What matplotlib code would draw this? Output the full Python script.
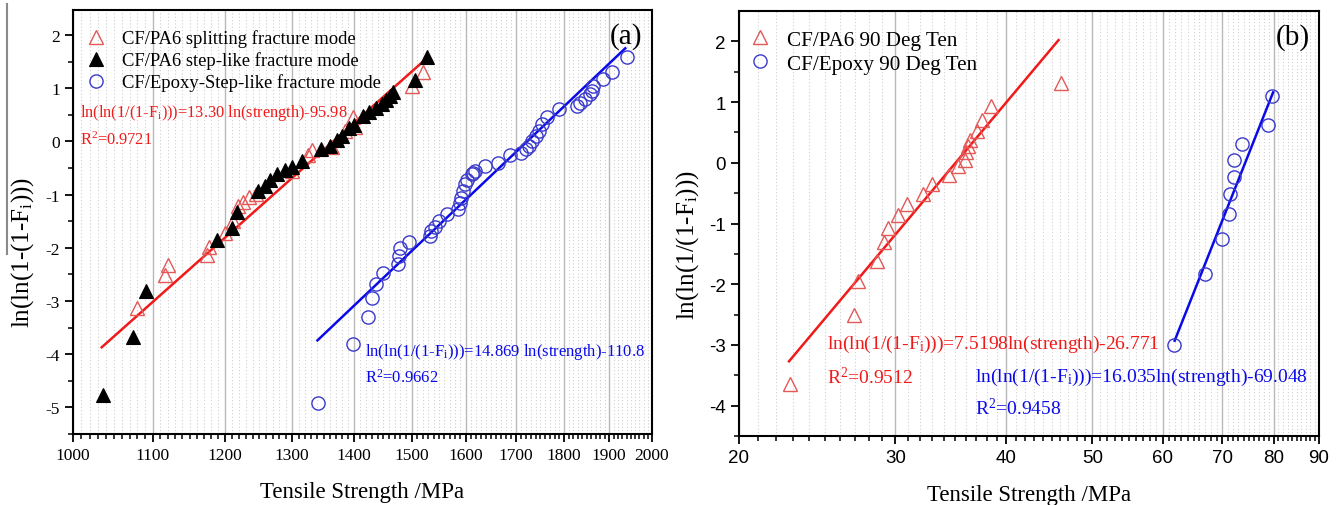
import numpy as np
import matplotlib
matplotlib.use("Agg")
import matplotlib.pyplot as plt
from matplotlib.ticker import FixedLocator, NullFormatter, FixedFormatter
from matplotlib.lines import Line2D

plt.rcParams['font.family'] = ['Liberation Serif', 'DejaVu Serif']
plt.rcParams['mathtext.fontset'] = 'custom'
plt.rcParams['mathtext.rm'] = 'Liberation Serif'
plt.rcParams['mathtext.it'] = 'Liberation Serif:italic'

# ---------------- Panel (a) data ----------------
pa6_split_x = [1080, 1116, 1121, 1174, 1177, 1200, 1211, 1219, 1226, 1234, 1245,
               1300, 1325, 1331, 1363, 1385, 1399, 1402, 1500, 1520]
pa6_split_y = [-3.14, -2.51, -2.32, -2.13, -1.98, -1.72, -1.50, -1.22, -1.13, -1.05, -0.98,
               -0.55, -0.25, -0.17, -0.10, 0.20, 0.45, 0.28, 1.04, 1.30]

pa6_step_x = [1036, 1075, 1091, 1188, 1209, 1217, 1248, 1258, 1266, 1276, 1289, 1300,
              1315, 1345, 1360, 1372, 1380, 1392, 1400, 1415, 1425, 1438, 1447, 1455,
              1462, 1466, 1506, 1527]
pa6_step_y = [-4.77, -3.67, -2.81, -1.85, -1.63, -1.33, -0.93, -0.84, -0.72, -0.62, -0.53, -0.48,
              -0.37, -0.15, -0.08, 0.02, 0.10, 0.25, 0.30, 0.48, 0.55, 0.62, 0.70, 0.78,
              0.85, 0.92, 1.15, 1.58]

epoxy_x = [1341, 1398, 1424, 1430, 1438, 1449, 1476, 1478, 1479, 1496, 1534, 1535, 1543,
           1549, 1564, 1586, 1589, 1592, 1595, 1599, 1602, 1613, 1618, 1614, 1638, 1664,
           1688, 1709, 1719, 1726, 1733, 1740, 1747, 1754, 1764, 1789, 1828, 1835, 1846,
           1857, 1861, 1864, 1887, 1906, 1940]
epoxy_y = [-4.92, -3.81, -3.30, -2.95, -2.68, -2.48, -2.30, -2.15, -2.01, -1.90, -1.77, -1.69, -1.60,
           -1.50, -1.36, -1.27, -1.16, -1.06, -0.94, -0.81, -0.72, -0.62, -0.56, -0.59, -0.47, -0.40,
           -0.25, -0.21, -0.15, -0.09, 0.01, 0.10, 0.19, 0.32, 0.45, 0.60, 0.67, 0.73, 0.79,
           0.89, 0.95, 1.04, 1.18, 1.31, 1.58]

pa6_fit_x = [1035, 1528]
pa6_fit_y = [-3.87, 1.57]
epoxy_fit_x = [1340, 1937]
epoxy_fit_y = [-3.74, 1.75]

a_xticks = [1000, 1100, 1200, 1300, 1400, 1500, 1600, 1700, 1800, 1900, 2000]
a_yticks = [-5, -4, -3, -2, -1, 0, 1, 2]

# ---------------- Panel (b) data ----------------
pa6_90_x = [22.8, 26.96, 27.2, 28.6, 29.1, 29.4, 30.2, 30.9, 32.2, 33.0, 34.5, 35.3,
            35.9, 36.0, 36.2, 36.4, 37.1, 37.6, 38.4, 46.1]
pa6_90_y = [-3.64, -2.50, -1.95, -1.61, -1.31, -1.08, -0.86, -0.68, -0.52, -0.35, -0.20, -0.06,
            0.05, 0.17, 0.27, 0.38, 0.52, 0.71, 0.93, 1.31]

epoxy_90_x = [61.8, 67.0, 69.9, 71.3, 71.5, 72.2, 72.2, 73.8, 78.9, 79.7]
epoxy_90_y = [-3.00, -1.83, -1.26, -0.84, -0.52, -0.23, 0.04, 0.31, 0.63, 1.10]

pa6_90_fit_x = [22.77, 45.8]
pa6_90_fit_y = [-3.27, 2.02]
epoxy_90_fit_x = [61.9, 79.9]
epoxy_90_fit_y = [-2.93, 1.16]

b_xticks = [20, 30, 40, 50, 60, 70, 80, 90]
b_yticks = [-4, -3, -2, -1, 0, 1, 2]

RED = '#f01a1a'
RED_M = '#e45858'
BLUE = '#0a0ae8'
BLUE_M = '#3a3acc'

W, H = 1340, 506
fig = plt.figure(figsize=(W / 100, H / 100), dpi=100)

def style_axes(ax, xticks, xmin, xmax, yticks, ylim, minor_step, tick_font):
    ax.set_xscale('log')
    ax.set_xlim(xmin, xmax)
    ax.set_ylim(*ylim)
    ax.xaxis.set_major_locator(FixedLocator(xticks))
    ax.xaxis.set_major_formatter(FixedFormatter([str(t) for t in xticks]))
    minors = [v for v in np.arange(xmin, xmax + minor_step / 2, minor_step)
              if not any(abs(v - t) < 1e-9 for t in xticks)]
    ax.xaxis.set_minor_locator(FixedLocator(minors))
    ax.xaxis.set_minor_formatter(NullFormatter())
    ax.yaxis.set_major_locator(FixedLocator(yticks))
    ax.yaxis.set_minor_locator(FixedLocator(list(np.arange(ylim[0], ylim[1], 0.5))))
    ax.tick_params(which='major', direction='out', length=6, width=1.3,
                   top=False, right=False)
    ax.tick_params(which='minor', direction='out', length=3.5, width=1.1,
                   top=False, right=False)
    ax.grid(True, which='major', axis='x', color='#b8b8b8', lw=1.0, ls='-')
    ax.grid(True, which='minor', axis='x', color='#cfcfcf', lw=0.8, ls=(0, (1, 2)))
    ax.set_axisbelow(True)
    for s in ax.spines.values():
        s.set_linewidth(1.5)
    for lab in ax.get_xticklabels() + ax.get_yticklabels():
        lab.set_fontfamily(tick_font[0])
        lab.set_fontsize(tick_font[1])

# ---------- (a) ----------
ax1 = fig.add_axes([73 / W, 1 - 435 / H, 579 / W, 424 / H])
style_axes(ax1, a_xticks, 1000, 2000, a_yticks, (-5.5, 2.47), 10, ('Liberation Serif', 12.5))
ax1.set_yticklabels([str(t) for t in a_yticks])

ax1.plot(pa6_fit_x, pa6_fit_y, color=RED, lw=1.8, zorder=2)
ax1.plot(epoxy_fit_x, epoxy_fit_y, color=BLUE, lw=1.8, zorder=2)
ax1.plot(pa6_split_x, pa6_split_y, ls='none', marker='^', ms=9.5, mfc='none',
         mec=RED_M, mew=1.0, label='CF/PA6 splitting fracture mode', zorder=3)
ax1.plot(pa6_step_x, pa6_step_y, ls='none', marker='^', ms=9.5, mfc='black',
         mec='black', mew=0.8, label='CF/PA6 step-like fracture mode', zorder=4)
ax1.plot(epoxy_x, epoxy_y, ls='none', marker='o', ms=9.5, mfc='none',
         mec=BLUE_M, mew=1.0, label='CF/Epoxy-Step-like fracture mode', zorder=3)

ax1.legend(loc='upper left', bbox_to_anchor=(-0.002, 0.985), frameon=False,
           fontsize=13.4, handlelength=1.2, handletextpad=0.8, labelspacing=0.22,
           borderaxespad=0.3)

ax1.text(0.012, 0.759, r'ln(ln(1/(1-F$_\mathrm{i}$)))=13.30 ln(strength)-95.98',
         transform=ax1.transAxes, color=RED, fontsize=11.8, va='center', ha='left')
ax1.text(0.012, 0.696, r'R$^2$=0.9721', transform=ax1.transAxes, color=RED,
         fontsize=11.8, va='center', ha='left')
ax1.text(0.505, 0.196, r'ln(ln(1/(1-F$_\mathrm{i}$)))=14.869 ln(strength)-110.8',
         transform=ax1.transAxes, color=BLUE, fontsize=12, va='center', ha='left')
ax1.text(0.505, 0.134, r'R$^2$=0.9662', transform=ax1.transAxes, color=BLUE,
         fontsize=12, va='center', ha='left')
ax1.text(0.984, 0.94, '(a)', transform=ax1.transAxes, fontsize=21, ha='right', va='center')

ax1.set_xlabel('Tensile Strength /MPa', fontsize=16.5, labelpad=13)
ax1.set_ylabel(r'ln(ln(1-(1-F$_\mathrm{i}$)))', fontsize=18)
ax1.yaxis.set_label_coords(-0.064, 0.43)

# ---------- (b) ----------
ax2 = fig.add_axes([739 / W, 1 - 437 / H, 580 / W, 425 / H])
style_axes(ax2, b_xticks, 20, 90, b_yticks, (-4.5, 2.5), 1, ('Liberation Sans', 13.5))
ax2.set_yticklabels([str(t) for t in b_yticks])

ax2.plot(pa6_90_fit_x, pa6_90_fit_y, color=RED, lw=1.8, zorder=2)
ax2.plot(epoxy_90_fit_x, epoxy_90_fit_y, color=BLUE, lw=1.8, zorder=2)
ax2.plot(pa6_90_x, pa6_90_y, ls='none', marker='^', ms=9.5, mfc='none',
         mec=RED_M, mew=1.0, label='CF/PA6 90 Deg Ten', zorder=3)
ax2.plot(epoxy_90_x, epoxy_90_y, ls='none', marker='o', ms=9.5, mfc='none',
         mec=BLUE_M, mew=1.0, label='CF/Epoxy 90 Deg Ten', zorder=3)

ax2.legend(loc='upper left', bbox_to_anchor=(-0.01, 0.99), frameon=False,
           fontsize=15.2, handlelength=1.1, handletextpad=0.75, labelspacing=0.2,
           borderaxespad=0.3)

ax2.text(0.152, 0.217, r'ln(ln(1/(1-F$_\mathrm{i}$)))=7.5198ln(strength)-26.771',
         transform=ax2.transAxes, color=RED, fontsize=14, va='center', ha='left')
ax2.text(0.152, 0.14, r'R$^2$=0.9512', transform=ax2.transAxes, color=RED,
         fontsize=14, va='center', ha='left')
ax2.text(0.407, 0.14, r'ln(ln(1/(1-F$_\mathrm{i}$)))=16.035ln(strength)-69.048',
         transform=ax2.transAxes, color=BLUE, fontsize=14, va='center', ha='left')
ax2.text(0.407, 0.068, r'R$^2$=0.9458', transform=ax2.transAxes, color=BLUE,
         fontsize=14, va='center', ha='left')
ax2.text(0.984, 0.94, '(b)', transform=ax2.transAxes, fontsize=21, ha='right', va='center')

ax2.set_xlabel('Tensile Strength /MPa', fontsize=16.5, labelpad=13)
ax2.set_ylabel(r'ln(ln(1/(1-F$_\mathrm{i}$)))', fontsize=18)
ax2.yaxis.set_label_coords(-0.066, 0.452)

# decorative gray rule at the far left (present in the source image)
fig.add_artist(Line2D([7 / W, 7 / W], [1 - 5 / H, 1 - 255 / H], color='#8a8a8a', lw=1.5))

fig.savefig('out.png', dpi=100)
